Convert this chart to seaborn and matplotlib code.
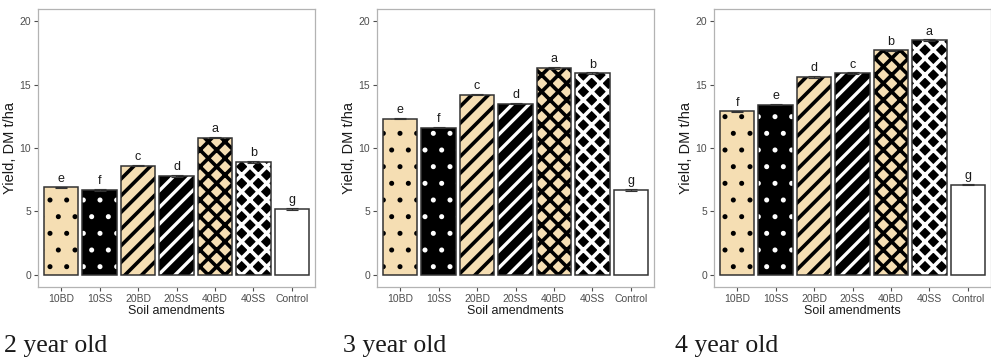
import matplotlib
matplotlib.use("Agg")
import matplotlib.pyplot as plt
import seaborn as sns
import numpy as np
import pandas as pd

# data
treatments = ["10BD", "10SS", "20BD", "20SS", "40BD", "40SS", "Control"]
ages = ["2 year old", "3 year old", "4 year old"]
yield_2yr = [6.9, 6.7, 8.6, 7.8, 10.8, 8.9, 5.2]
yield_3yr = [12.3, 11.6, 14.2, 13.5, 16.3, 15.9, 6.7]
yield_4yr = [12.9, 13.4, 15.6, 15.9, 17.7, 18.5, 7.1]
err_2yr = [0.05, 0.05, 0.05, 0.05, 0.05, 0.05, 0.05]
err_3yr = [0.05, 0.05, 0.05, 0.05, 0.05, 0.05, 0.05]
err_4yr = [0.05, 0.05, 0.05, 0.05, 0.05, 0.05, 0.05]
letters_2yr = ["e", "f", "c", "d", "a", "b", "g"]
letters_3yr = ["e", "f", "c", "d", "a", "b", "g"]
letters_4yr = ["f", "e", "d", "c", "b", "a", "g"]

TAN = "#F5DEB3"
fills = [TAN, "black", TAN, "black", TAN, "black", "white"]
hatches = [".", ".", "//", "//", "xx", "xx", ""]
hatch_colors = ["black", "white", "black", "white", "black", "white", "white"]
hatch_widths = [1.2, 1.2, 2.6, 2.4, 2.6, 2.6, 1.0]

sns.set_style("white")
plt.rcParams["font.family"] = ["Liberation Sans", "DejaVu Sans"]


def draw_panel(ax, values, errs, letters):
    df = pd.DataFrame({"treatment": treatments, "yield": values})
    sns.barplot(data=df, x="treatment", y="yield", order=treatments,
                hue="treatment", hue_order=treatments, palette=fills,
                legend=False, width=0.9, errorbar=None, saturation=1,
                linewidth=0, ax=ax)
    for patch, h, hc, hw in zip(ax.patches, hatches, hatch_colors, hatch_widths):
        patch.set_hatch(h)
        patch.set_edgecolor(hc)
        patch.set_linewidth(0)
        if hasattr(patch, "set_hatch_linewidth"):
            patch.set_hatch_linewidth(hw)
    # outlines on top of the hatched fills
    sns.barplot(data=df, x="treatment", y="yield", order=treatments,
                fill=False, color="#333333", width=0.9, errorbar=None,
                linewidth=1.1, ax=ax)
    x = np.arange(len(treatments))
    ax.errorbar(x, values, yerr=errs, fmt="none", ecolor="#333333",
                elinewidth=0.8, capsize=4, capthick=0.8)
    for xi, v, e, lab in zip(x, values, errs, letters):
        ax.text(xi, v + e + 0.15, lab, ha="center", va="bottom",
                fontsize=9, color="#1a1a1a")

    ax.set_ylim(-0.95, 20.95)
    ax.set_xlim(-0.6, 6.6)
    ax.set_yticks([0, 5, 10, 15, 20])
    ax.set_xlabel("Soil amendments", fontsize=9, color="#1a1a1a", labelpad=1)
    ax.set_ylabel("Yield, DM t/ha", fontsize=10.5, color="#1a1a1a", labelpad=2)
    ax.tick_params(axis="both", which="both", labelsize=7.5, colors="#4d4d4d",
                   length=3, width=0.8, direction="out", pad=2,
                   bottom=True, left=True)
    for sp in ax.spines.values():
        sp.set_color("#b3b3b3")
        sp.set_linewidth(0.9)


fig = plt.figure(figsize=(9.91, 3.57), dpi=100)
panels = [
    (yield_2yr, err_2yr, letters_2yr),
    (yield_3yr, err_3yr, letters_3yr),
    (yield_4yr, err_4yr, letters_4yr),
]
lefts = [38, 377, 714]
label_x = [4, 343, 675]
for left, lx, age, (vals, errs, lets) in zip(lefts, label_x, ages, panels):
    ax = fig.add_axes([left / 991, 70 / 357, 277 / 991, 278 / 357])
    draw_panel(ax, vals, errs, lets)
    fig.text(lx / 991, 5 / 357, age, fontsize=18.5, ha="left", va="baseline",
             family=["Liberation Serif", "DejaVu Serif"], color="#1a1a1a")

fig.savefig("out.png", dpi=100)
